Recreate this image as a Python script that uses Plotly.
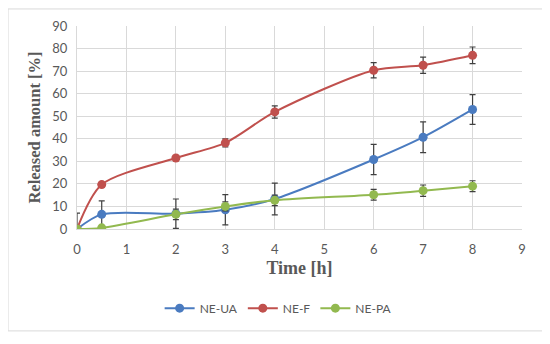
import plotly.graph_objects as go

time_h = [0, 0.5, 2, 3, 4, 6, 7, 8]

ne_ua = [0, 6.5, 6.8, 8.5, 13.3, 30.8, 40.7, 53.0]
ne_ua_err = [7.0, 6.0, 6.5, 6.7, 7.0, 6.7, 6.8, 6.6]

ne_f = [0, 19.7, 31.5, 38.2, 51.9, 70.4, 72.6, 77.0]
ne_f_err = [0.5, 0.8, 1.0, 1.8, 2.7, 3.4, 3.6, 3.7]

ne_pa = [0, 0.5, 6.5, 10.0, 12.7, 15.2, 17.0, 19.0]
ne_pa_err = [0.3, 0.3, 2.3, 2.0, 2.3, 2.4, 2.5, 2.4]

series = [
    ("NE-UA", ne_ua, ne_ua_err, "#4a7bc0"),
    ("NE-F", ne_f, ne_f_err, "#c0504d"),
    ("NE-PA", ne_pa, ne_pa_err, "#92b94f"),
]

fig = go.Figure()
for name, vals, errs, color in series:
    fig.add_trace(go.Scatter(
        x=time_h, y=vals, name=name, mode="lines+markers",
        line=dict(color=color, width=2, shape="spline", smoothing=0.8),
        marker=dict(color=color, size=9),
        error_y=dict(type="data", array=errs, visible=True,
                     color="#404040", thickness=1.2, width=3),
    ))

fig.update_layout(
    width=542, height=336,
    margin=dict(l=69, r=28, t=18, b=115),
    paper_bgcolor="white", plot_bgcolor="white",
    showlegend=True,
    legend=dict(orientation="h", x=0.452, xanchor="center", y=-0.39, yanchor="middle",
                font=dict(family="Lato, Open Sans, sans-serif", size=12, color="#595959"),
                itemwidth=30, tracegroupgap=0),
    font=dict(family="Lato, Open Sans, sans-serif", size=12, color="#595959"),
    xaxis=dict(range=[0, 9], dtick=1, showgrid=True, gridcolor="#d9d9d9", gridwidth=1,
               zeroline=False, showline=True, linecolor="#d9d9d9", mirror=False,
               ticks="", ticklabelstandoff=8, automargin=False,
               tickfont=dict(size=13, color="#595959"),
               title=dict(text="<b>Time [h]</b>", standoff=5,
                          font=dict(family="Liberation Serif, Times New Roman, serif", size=18, color="#595959"))),
    yaxis=dict(range=[0, 90], dtick=10, showgrid=True, gridcolor="#d9d9d9", gridwidth=1,
               zeroline=False, showline=True, linecolor="#d9d9d9",
               ticks="", ticklabelstandoff=6, automargin=False,
               tickfont=dict(size=13, color="#595959"),
               title=dict(text="<b>Released amount [%]</b>", standoff=7,
                          font=dict(family="Liberation Serif, Times New Roman, serif", size=16.5, color="#595959"))),
    shapes=[dict(type="rect", xref="paper", yref="paper",
                 x0=-0.155, x1=1.047, y0=-0.502, y1=1.084,
                 line=dict(color="#d9d9d9", width=1), fillcolor="rgba(0,0,0,0)", layer="below")],
)

fig.write_html("out.html")
